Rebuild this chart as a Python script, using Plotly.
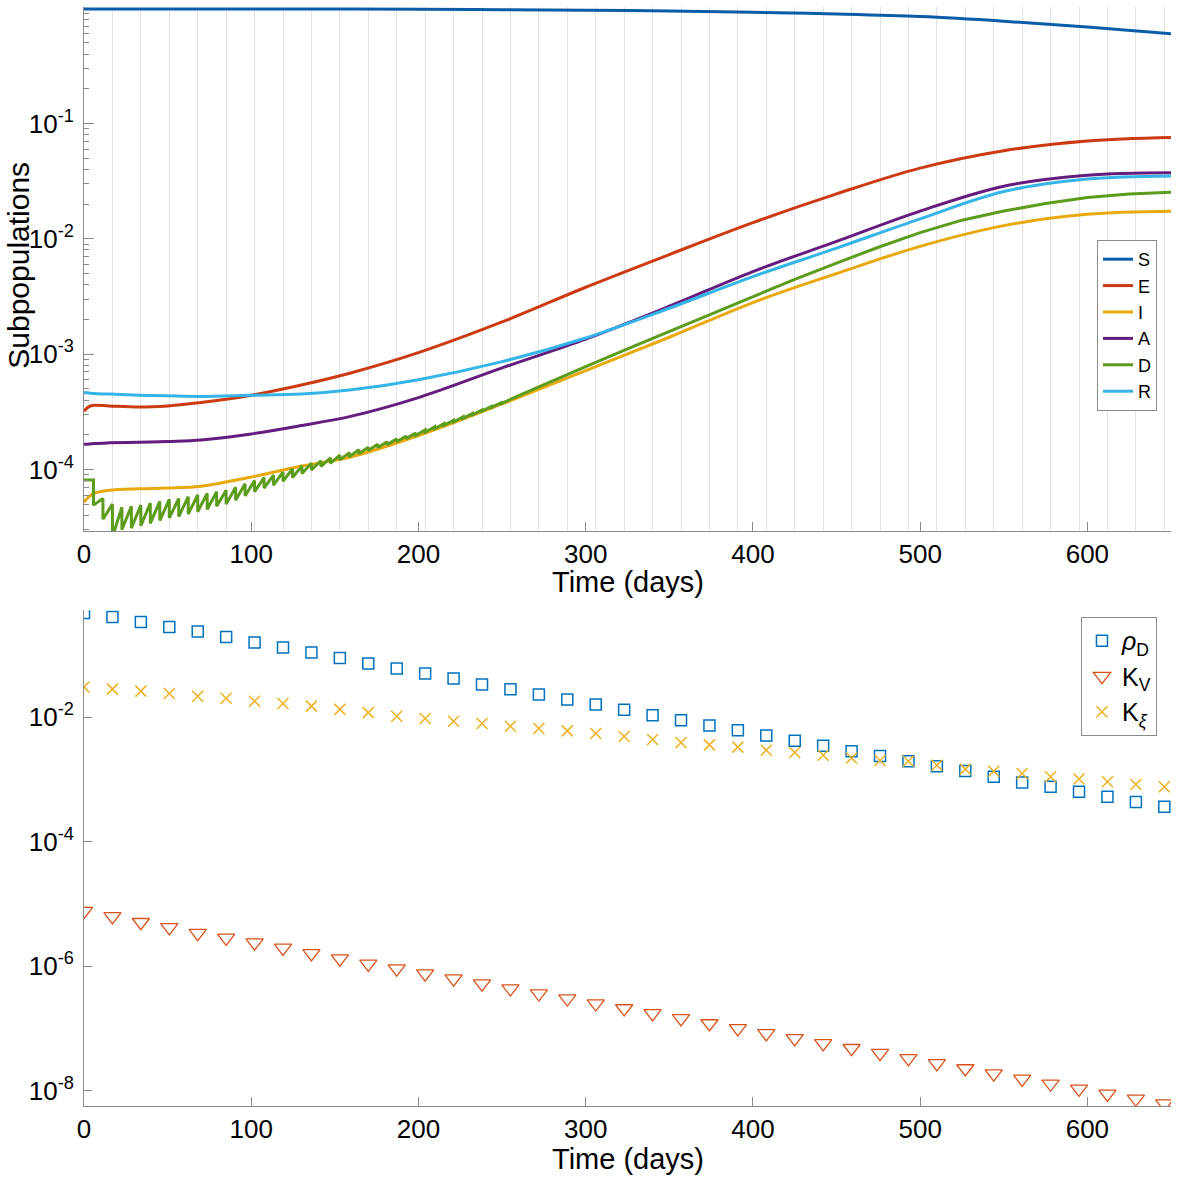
import plotly.graph_objects as go

# ---------------- top panel data (Time in days) ----------------
T = [0, 3, 6, 15, 33, 50, 70, 100, 130, 160, 200, 250, 300, 350, 400, 450, 500, 550, 600, 650]
S = [0.985, 0.985, 0.985, 0.985, 0.985, 0.985, 0.985, 0.984, 0.983, 0.981, 0.977, 0.970,
     0.960, 0.945, 0.922, 0.890, 0.845, 0.770, 0.685, 0.600]
E = [3.2e-4, 3.5e-4, 3.6e-4, 3.55e-4, 3.47e-4, 3.55e-4, 3.8e-4, 4.4e-4, 5.4e-4, 6.9e-4,
     1.03e-3, 1.9e-3, 3.8e-3, 7.3e-3, 1.38e-2, 2.45e-2, 4.1e-2, 5.8e-2, 7.05e-2, 7.55e-2]
I = [5.2e-5, 5.8e-5, 6.2e-5, 6.6e-5, 6.8e-5, 6.9e-5, 7.15e-5, 8.6e-5, 1.07e-4, 1.29e-4,
     1.97e-4, 3.7e-4, 7.2e-4, 1.4e-3, 2.8e-3, 5.0e-3, 8.6e-3, 1.30e-2, 1.63e-2, 1.73e-2]
A = [1.65e-4, 1.66e-4, 1.68e-4, 1.70e-4, 1.72e-4, 1.75e-4, 1.80e-4, 2.03e-4, 2.4e-4, 2.9e-4,
     4.2e-4, 7.6e-4, 1.35e-3, 2.6e-3, 5.2e-3, 9.5e-3, 1.74e-2, 2.86e-2, 3.56e-2, 3.74e-2]
R = [4.65e-4, 4.6e-4, 4.55e-4, 4.5e-4, 4.4e-4, 4.35e-4, 4.3e-4, 4.4e-4, 4.5e-4, 4.9e-4,
     6.0e-4, 8.6e-4, 1.38e-3, 2.5e-3, 4.7e-3, 8.3e-3, 1.49e-2, 2.57e-2, 3.3e-2, 3.51e-2]

# D: sawtooth estimate (drops at each update), then smooth growth
D_T = [0, 5.66, 5.67, 11.32, 11.33, 16.99, 17.0, 22.66, 22.67, 28.32, 28.33, 33.99, 34.0,
       39.66, 39.67, 45.32, 45.33, 50.99, 51.0, 56.66, 56.67, 62.32, 62.33, 67.99, 68.0,
       73.66, 73.67, 79.32, 79.33, 84.99, 85.0, 90.66, 90.67, 96.32, 96.33, 101.99, 102.0,
       107.66, 107.67, 113.32, 113.33, 118.99, 119.0, 124.66, 124.67, 130.32, 130.33,
       135.99, 136.0, 141.66, 141.67, 147.32, 147.33, 152.99, 153.0, 158.66, 158.67,
       164.32, 164.33, 169.99, 170.0, 175.66, 175.67, 181.32, 181.33, 186.99, 187.0,
       192.66, 192.67, 198.32, 198.33, 203.99, 204.0, 209.66, 209.67, 215.32, 215.33,
       220.99, 221.0, 226.66, 226.67, 232.32, 232.33, 237.99, 238.0, 243.66, 243.67,
       249.32, 249.33, 262, 275, 287, 300, 325, 350, 375, 400, 425, 450, 475, 500, 525,
       550, 575, 600, 625, 650]
D_V = [8.1e-5, 8.1e-5, 4.9e-5, 5.6e-5, 3.7e-5, 5.0e-5, 2.6e-5, 4.7e-5, 3.0e-5, 4.8e-5, 3.1e-5,
       4.9e-5, 3.25e-5, 5.1e-5, 3.4e-5, 5.3e-5, 3.6e-5, 5.5e-5, 3.8e-5, 5.6e-5, 3.9e-5,
       5.8e-5, 4.1e-5, 6.0e-5, 4.3e-5, 6.2e-5, 4.5e-5, 6.4e-5, 4.8e-5, 6.6e-5, 5.0e-5,
       7.0e-5, 5.4e-5, 7.5e-5, 5.9e-5, 8.0e-5, 6.4e-5, 8.5e-5, 6.9e-5, 8.9e-5, 7.3e-5,
       9.5e-5, 7.9e-5, 1.01e-4, 8.5e-5, 1.07e-4, 9.2e-5, 1.13e-4, 9.9e-5, 1.19e-4, 1.06e-4,
       1.26e-4, 1.13e-4, 1.33e-4, 1.21e-4, 1.40e-4, 1.29e-4, 1.48e-4, 1.37e-4, 1.56e-4,
       1.46e-4, 1.65e-4, 1.55e-4, 1.74e-4, 1.64e-4, 1.84e-4, 1.74e-4, 1.95e-4, 1.85e-4,
       2.07e-4, 1.97e-4, 2.20e-4, 2.10e-4, 2.34e-4, 2.25e-4, 2.50e-4, 2.41e-4, 2.67e-4,
       2.58e-4, 2.86e-4, 2.77e-4, 3.06e-4, 2.98e-4, 3.28e-4, 3.20e-4, 3.52e-4, 3.45e-4,
       3.78e-4, 3.72e-4, 4.5e-4, 5.45e-4, 6.5e-4, 7.8e-4, 1.11e-3, 1.57e-3, 2.23e-3,
       3.15e-3, 4.45e-3, 6.15e-3, 8.45e-3, 1.13e-2, 1.45e-2, 1.74e-2, 2.02e-2, 2.28e-2,
       2.45e-2, 2.53e-2]

# ---------------- bottom panel data ----------------
MK_T = [0, 17, 34, 51, 68, 85, 102, 119, 136, 153, 170, 187, 204, 221, 238, 255, 272, 289,
        306, 323, 340, 357, 374, 391, 408, 425, 442, 459, 476, 493, 510, 527, 544, 561,
        578, 595, 612, 629, 646]
RHO_D = [0.471, 0.406, 0.337, 0.281, 0.237, 0.194, 0.157, 0.131, 0.109, 0.0891, 0.0724,
         0.0603, 0.0501, 0.0417, 0.0333, 0.0281, 0.0231, 0.0192, 0.0159, 0.0131, 0.0107,
         0.00891, 0.00733, 0.00617, 0.00507, 0.00415, 0.00345, 0.00284, 0.00237, 0.00195,
         0.00163, 0.00136, 0.00110, 0.000891, 0.000759, 0.000631, 0.000524, 0.000431,
         0.000362]
K_V = [7.64e-6, 6.31e-6, 5.07e-6, 4.18e-6, 3.40e-6, 2.84e-6, 2.38e-6, 1.97e-6, 1.60e-6,
       1.32e-6, 1.09e-6, 9.1e-7, 7.6e-7, 6.3e-7, 5.25e-7, 4.37e-7, 3.63e-7, 3.02e-7,
       2.51e-7, 2.09e-7, 1.74e-7, 1.45e-7, 1.20e-7, 1.00e-7, 8.3e-8, 6.9e-8, 5.75e-8,
       4.8e-8, 4.0e-8, 3.3e-8, 2.75e-8, 2.27e-8, 1.88e-8, 1.55e-8, 1.29e-8, 1.07e-8,
       8.9e-9, 7.4e-9, 6.2e-9]
K_XI = [0.0305, 0.0281, 0.0261, 0.0239, 0.0216, 0.0200, 0.0180, 0.0165, 0.0150, 0.0133,
        0.0118, 0.0103, 0.0095, 0.00859, 0.00789, 0.00714, 0.00656, 0.00600, 0.00546,
        0.00487, 0.00437, 0.00391, 0.00358, 0.00329, 0.00294, 0.00270, 0.00244, 0.00221,
        0.00201, 0.00196, 0.00169, 0.00146, 0.00135, 0.00124, 0.00110, 0.00101,
        0.000912, 0.000828, 0.000759]

TOP_TICKS = [1e-4, 1e-3, 1e-2, 1e-1]
TOP_TICKTEXT = ["10<sup>-4</sup>", "10<sup>-3</sup>", "10<sup>-2</sup>", "10<sup>-1</sup>"]
BOT_TICKS = [1e-8, 1e-6, 1e-4, 1e-2]
BOT_TICKTEXT = ["10<sup>-8</sup>", "10<sup>-6</sup>", "10<sup>-4</sup>", "10<sup>-2</sup>"]
X_TICKS = [0, 100, 200, 300, 400, 500, 600]

FONT = "Liberation Sans, Arial, Helvetica, sans-serif"
AXC = "#8a8a8a"

fig = go.Figure()
series = [("S", S, "#0a5ca8"), ("E", E, "#cc3a12"), ("I", I, "#e8a90f"),
          ("A", A, "#641c7e"), ("D", None, "#5c9c1c"), ("R", R, "#35b4e8")]
for name, vals, col in series:
    if name == "D":
        fig.add_trace(go.Scatter(x=D_T, y=D_V, name=name, mode="lines",
                                 line=dict(color=col, width=3), legend="legend",
                                 xaxis="x", yaxis="y"))
    else:
        fig.add_trace(go.Scatter(x=T, y=vals, name=name, mode="lines",
                                 line=dict(color=col, width=3, shape="spline", smoothing=1.0),
                                 legend="legend", xaxis="x", yaxis="y"))

fig.add_trace(go.Scatter(x=MK_T, y=RHO_D, name="<i>ρ</i><sub>D</sub>", mode="markers",
                         marker=dict(symbol="square-open", size=11, color="#0072BD",
                                     line=dict(width=1.5)),
                         legend="legend2", xaxis="x2", yaxis="y2"))
fig.add_trace(go.Scatter(x=MK_T, y=K_V, name="K<sub>V</sub>", mode="markers",
                         marker=dict(symbol="triangle-down-open", size=15, color="#D95319",
                                     line=dict(width=1.3)),
                         legend="legend2", xaxis="x2", yaxis="y2"))
fig.add_trace(go.Scatter(x=MK_T, y=K_XI, name="K<sub><i>ξ</i></sub>", mode="markers",
                         marker=dict(symbol="x-thin-open", size=11, color="#EDB120",
                                     line=dict(width=1.5)),
                         legend="legend2", xaxis="x2", yaxis="y2"))

minor_top = [m * 10.0 ** e for e in range(-5, 0) for m in range(2, 10)]

common_x = dict(range=[0, 650], tickvals=X_TICKS, ticks="inside", ticklen=9,
                tickcolor=AXC, showline=True, linecolor=AXC, linewidth=1,
                zeroline=False, automargin=False, tickfont=dict(size=26, color="black"))
fig.update_layout(
    width=1181, height=1177,
    margin=dict(l=84, r=10, t=7, b=71, autoexpand=False),
    paper_bgcolor="white", plot_bgcolor="white",
    font=dict(family=FONT, color="black"),
    showlegend=True,
    xaxis=dict(domain=[0, 1], anchor="y", showgrid=False,
               minor=dict(tick0=0, dtick=17, showgrid=True, gridcolor="#e2e2e2",
                          gridwidth=1, ticks=""), **common_x),
    yaxis=dict(domain=[0.5233, 1], anchor="x", type="log", range=[-4.533, 0.01],
               tickvals=TOP_TICKS, ticktext=TOP_TICKTEXT, ticks="inside", ticklen=10,
               tickcolor=AXC, showline=True, linecolor=AXC, showgrid=False,
               zeroline=False, ticklabelstandoff=4, automargin=False,
               tickfont=dict(size=26, color="black"),
               minor=dict(tickmode="array", tickvals=minor_top, ticks="inside",
                          ticklen=5, tickcolor=AXC, showgrid=False)),
    xaxis2=dict(domain=[0, 1], anchor="y2", showgrid=False, **common_x),
    yaxis2=dict(domain=[0, 0.4511], anchor="x2", type="log", range=[-8.246, -0.284],
                tickvals=BOT_TICKS, ticktext=BOT_TICKTEXT, ticks="inside", ticklen=8,
                tickcolor=AXC, showline=True, linecolor=AXC, showgrid=False,
                zeroline=False, ticklabelstandoff=4, automargin=False,
                tickfont=dict(size=26, color="black")),
    legend=dict(x=0.9871, xanchor="right", y=0.788, yanchor="top",
                bgcolor="white", bordercolor=AXC, borderwidth=1,
                font=dict(size=18, color="black"), itemwidth=30, tracegroupgap=0),
    legend2=dict(x=0.9871, xanchor="right", y=0.445, yanchor="top",
                 bgcolor="white", bordercolor=AXC, borderwidth=1,
                 font=dict(size=25, color="black"), itemwidth=30, tracegroupgap=0),
    annotations=[
        dict(text="Subpopulations", xref="paper", yref="paper", x=-0.061, y=0.7652,
             xanchor="center", yanchor="middle", textangle=-90, showarrow=False,
             font=dict(size=30, color="black")),
        dict(text="Time (days)", xref="paper", yref="paper", x=0.5, y=0.4768,
             xanchor="center", yanchor="middle", showarrow=False,
             font=dict(size=29, color="black")),
        dict(text="Time (days)", xref="paper", yref="paper", x=0.5, y=-0.0482,
             xanchor="center", yanchor="middle", showarrow=False,
             font=dict(size=29, color="black")),
    ],
)

fig.write_html("out.html", config={"displayModeBar": False},
               post_script="document.body.style.margin='0';document.body.style.overflow='hidden';")
